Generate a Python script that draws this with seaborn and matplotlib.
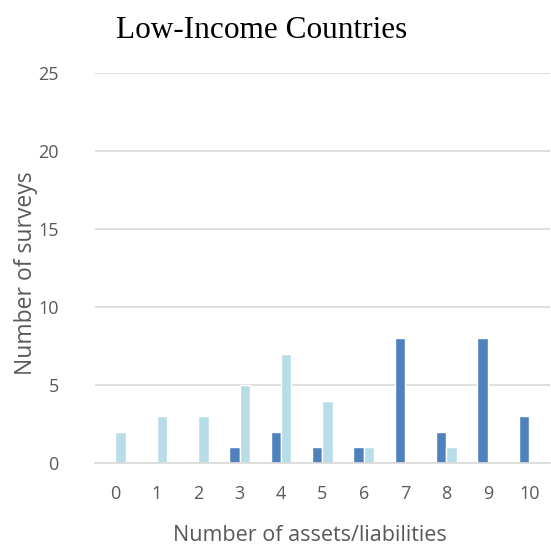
import matplotlib
matplotlib.use("Agg")
import matplotlib.pyplot as plt
import seaborn as sns
import pandas as pd

categories = [0, 1, 2, 3, 4, 5, 6, 7, 8, 9, 10]
series_dark = [0, 0, 0, 1, 2, 1, 1, 8, 2, 8, 3]
series_light = [2, 3, 3, 5, 7, 4, 1, 0, 1, 0, 0]
series_names = ["Series 1", "Series 2"]
y_ticks = [0, 5, 10, 15, 20, 25]

df = pd.DataFrame({
    "n": categories * 2,
    "count": series_dark + series_light,
    "series": [series_names[0]] * len(categories) + [series_names[1]] * len(categories),
})

sns.set_theme(style="white")
plt.rcParams["font.family"] = ["Open Sans", "DejaVu Sans"]

fig = plt.figure(figsize=(5.51, 5.47), dpi=100)
ax = fig.add_axes([0.172, 0.1536, 0.826, 0.713])

sns.barplot(data=df, x="n", y="count", hue="series", order=categories,
            hue_order=series_names, palette=["#4F81BD", "#B7DEE8"],
            saturation=1, width=0.5, edgecolor="white", linewidth=1.0,
            legend=False, ax=ax)

ax.set_ylim(0, 25)
ax.set_yticks(y_ticks)
ax.yaxis.grid(True, color="#D9D9D9", linewidth=1.2)
ax.set_axisbelow(True)
for side in ["top", "right", "left"]:
    ax.spines[side].set_visible(False)
ax.spines["bottom"].set_color("#D9D9D9")
ax.spines["bottom"].set_linewidth(1.2)
ax.tick_params(axis="y", length=0, labelsize=13, labelcolor="#595959", pad=26)
ax.tick_params(axis="x", length=0, labelsize=13, labelcolor="#595959", pad=16)
ax.set_xlim(-0.5, 10.5)

ax.set_xlabel("Number of assets/liabilities", fontsize=15.5, color="#595959")
ax.set_ylabel("Number of surveys", fontsize=16.5, color="#595959")
ax.xaxis.set_label_coords(0.473, -0.158)
ax.yaxis.set_label_coords(-0.125, 0.487)
fig.text(0.474, 0.945, "Low-Income Countries", ha="center", va="center",
         fontsize=22.5, family="Liberation Serif", color="black")

fig.savefig("out.png", dpi=100)
